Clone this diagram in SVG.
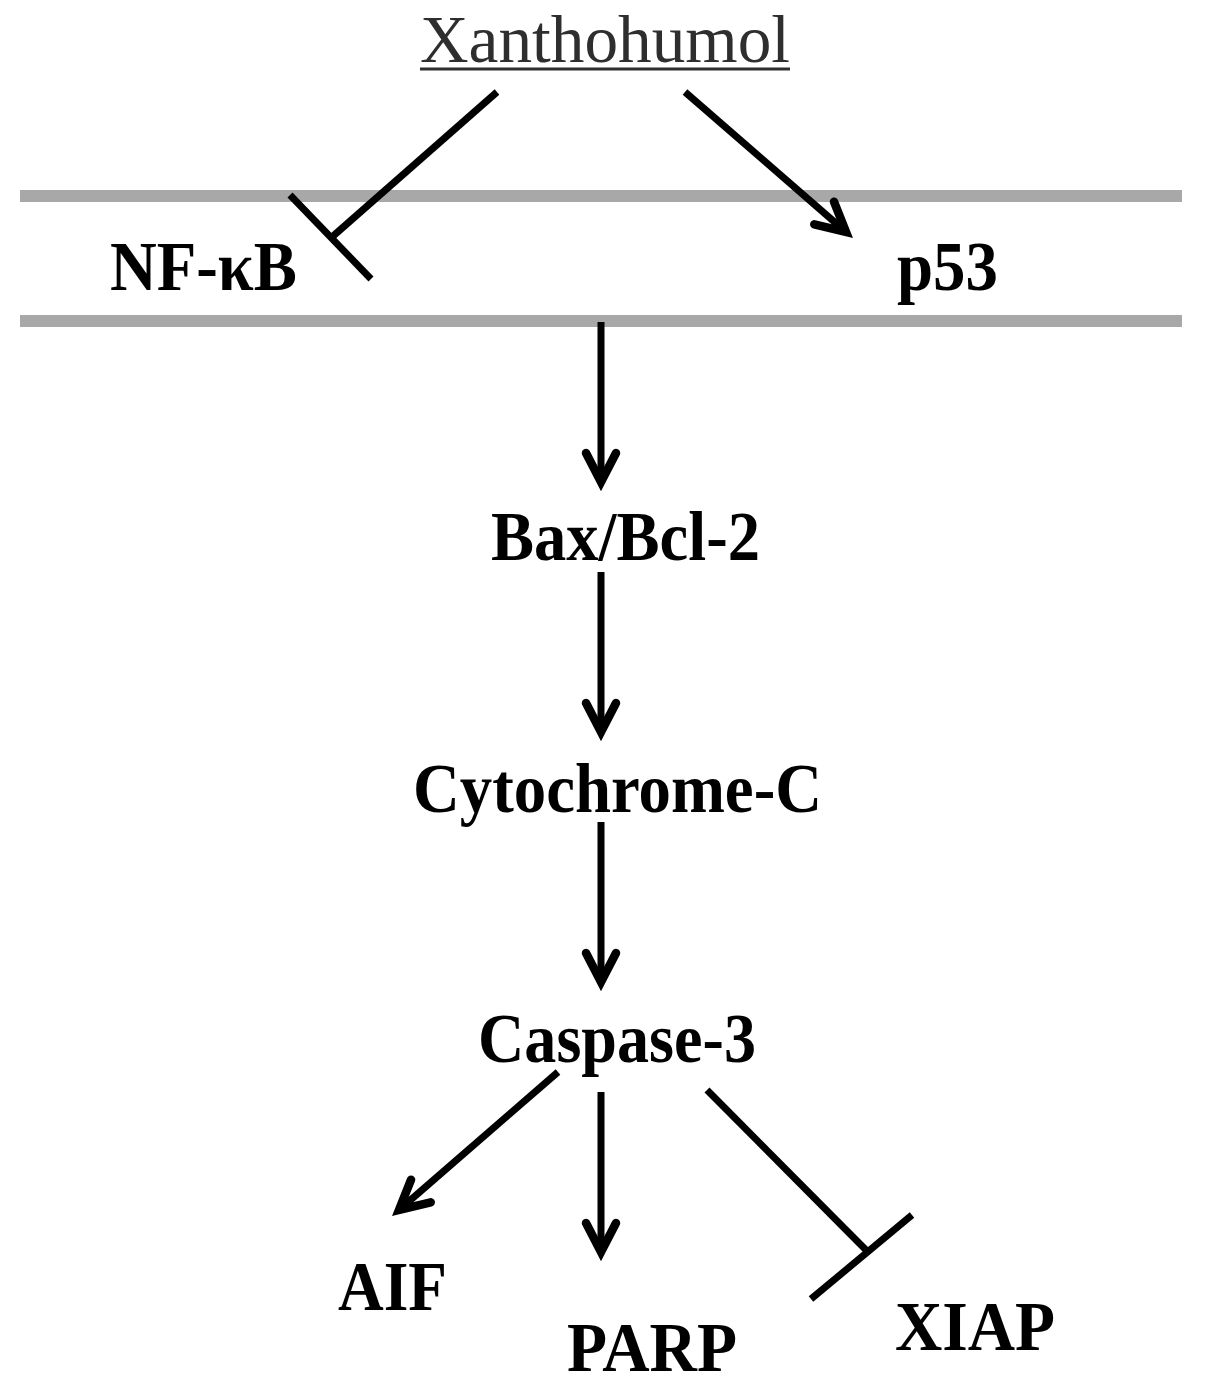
<svg xmlns="http://www.w3.org/2000/svg" width="1205" height="1387" viewBox="0 0 1205 1387">
<defs>
<style>
.lbl{font-family:"Liberation Serif","Times New Roman",serif;font-weight:bold;font-size:70px;fill:#000}
.title{font-family:"Liberation Serif","Times New Roman",serif;font-size:68px;fill:#2e2e2e}
.mem{stroke:#a8a8a8;stroke-width:12;fill:none}
.edge{stroke:#000;stroke-width:7;fill:none}
</style>
<marker id="arr" viewBox="-40 -25 50 50" refX="0" refY="0" markerWidth="50" markerHeight="50" markerUnits="userSpaceOnUse" orient="auto">
<path d="M-29,-15 L0,0 L-29,15" fill="none" stroke="#000" stroke-width="8.5" stroke-linejoin="miter" stroke-linecap="round"/>
</marker>
</defs>
<rect width="1205" height="1387" fill="#fff"/>
<g id="membrane">
<line class="mem" x1="20" y1="196" x2="1182" y2="196"/>
<line class="mem" x1="20" y1="321" x2="1182" y2="321"/>
</g>
<g id="connectors">
<line class="edge" x1="497" y1="92" x2="332" y2="237"/>
<line class="edge" x1="290" y1="195" x2="371" y2="279"/>
<line class="edge" x1="685" y1="92" x2="846" y2="232" marker-end="url(#arr)"/>
<line class="edge" x1="601" y1="322" x2="601" y2="482" marker-end="url(#arr)"/>
<line class="edge" x1="601" y1="572" x2="601" y2="732" marker-end="url(#arr)"/>
<line class="edge" x1="601" y1="822" x2="601" y2="982" marker-end="url(#arr)"/>
<line class="edge" x1="558" y1="1072" x2="399" y2="1210" marker-end="url(#arr)"/>
<line class="edge" x1="601" y1="1092" x2="601" y2="1252" marker-end="url(#arr)"/>
<line class="edge" x1="707" y1="1090" x2="866" y2="1250"/>
<line class="edge" x1="912" y1="1215" x2="811" y2="1299"/>
</g>
<g id="xanthohumol">
<text class="title" x="420" y="62" textLength="370" lengthAdjust="spacingAndGlyphs">Xanthohumol</text>
<line x1="420" y1="69" x2="790" y2="69" stroke="#2e2e2e" stroke-width="3"/>
</g>
<g id="nfkb"><text class="lbl" x="110" y="290" textLength="187" lengthAdjust="spacingAndGlyphs">NF-κB</text></g>
<g id="p53"><text class="lbl" x="897" y="290" textLength="101" lengthAdjust="spacingAndGlyphs">p53</text></g>
<g id="baxbcl2"><text class="lbl" x="491" y="560" textLength="269" lengthAdjust="spacingAndGlyphs">Bax/Bcl-2</text></g>
<g id="cytochrome"><text class="lbl" x="413" y="812" textLength="409" lengthAdjust="spacingAndGlyphs">Cytochrome-C</text></g>
<g id="caspase3"><text class="lbl" x="478" y="1062" textLength="278" lengthAdjust="spacingAndGlyphs">Caspase-3</text></g>
<g id="aif"><text class="lbl" x="338" y="1310" textLength="109" lengthAdjust="spacingAndGlyphs">AIF</text></g>
<g id="parp"><text class="lbl" x="567" y="1371" textLength="170" lengthAdjust="spacingAndGlyphs">PARP</text></g>
<g id="xiap"><text class="lbl" x="895" y="1350" textLength="160" lengthAdjust="spacingAndGlyphs">XIAP</text></g>
</svg>
